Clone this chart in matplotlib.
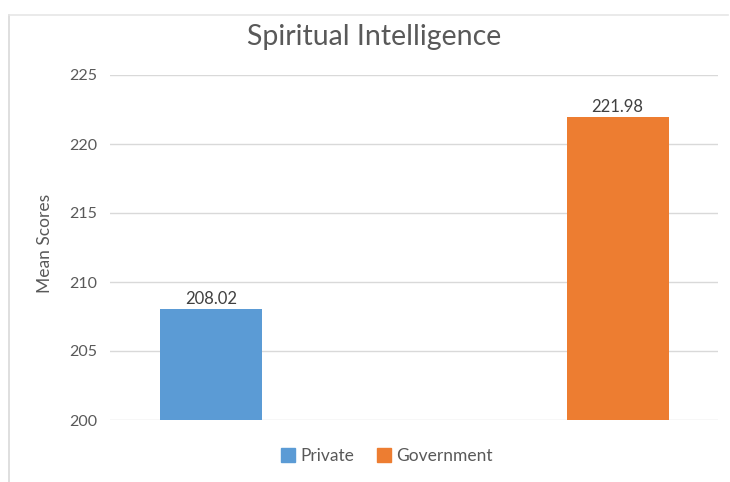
import matplotlib
matplotlib.use("Agg")
import matplotlib.pyplot as plt
from matplotlib.lines import Line2D

series = ["Private", "Government"]
values = [208.02, 221.98]
colors = ["#5B9BD5", "#ED7D31"]
yticks = [200, 205, 210, 215, 220, 225]

plt.rcParams['font.family'] = ['Lato', 'DejaVu Sans']

fig = plt.figure(figsize=(7.30, 4.82), dpi=100)
ax = fig.add_axes([110/730, 1-420/482, (718-110)/730, (420-75)/482])

xpos = [0, 1]
for x, v, c, s in zip(xpos, values, colors, series):
    ax.bar(x, v - 200, bottom=200, width=0.251, color=c, label=s, zorder=3)
    ax.text(x, v + 0.15, f"{v:.2f}", ha="center", va="bottom", fontsize=12, color="#404040")

ax.set_ylim(200, 225)
ax.set_xlim(-0.248, 1.247)
ax.set_yticks(yticks)
ax.set_yticklabels([str(t) for t in yticks], fontsize=11.5, color="#595959")
ax.set_xticks([])
ax.tick_params(axis="y", length=0, pad=9)
ax.grid(axis="y", color="#D9D9D9", linewidth=1, zorder=0)
for sp in ax.spines.values():
    sp.set_visible(False)

fig.text(45/730, 1-243/482, "Mean Scores", rotation=90, ha="center", va="center",
         fontsize=12.5, color="#595959")

fig.text(374/730, 1-37/482, "Spiritual Intelligence", ha="center", va="center",
         fontsize=20.5, color="#595959")

leg = fig.legend(handles=[plt.Rectangle((0, 0), 1, 1, color=c) for c in colors],
                 labels=series, loc="center", bbox_to_anchor=(387/730, 1-456/482),
                 ncol=2, frameon=False, fontsize=12.5, handlelength=0.8, handleheight=0.8,
                 handletextpad=0.3, columnspacing=1.3)
for t in leg.get_texts():
    t.set_color("#595959")

# chart border
fig.add_artist(Line2D([9/730, 9/730], [0, 1-15/482], transform=fig.transFigure, color="#D9D9D9", lw=1.2))
fig.add_artist(Line2D([9/730, 728/730], [1-15/482, 1-15/482], transform=fig.transFigure, color="#E6E6E6", lw=1.2))

fig.savefig("out.png", dpi=100)
